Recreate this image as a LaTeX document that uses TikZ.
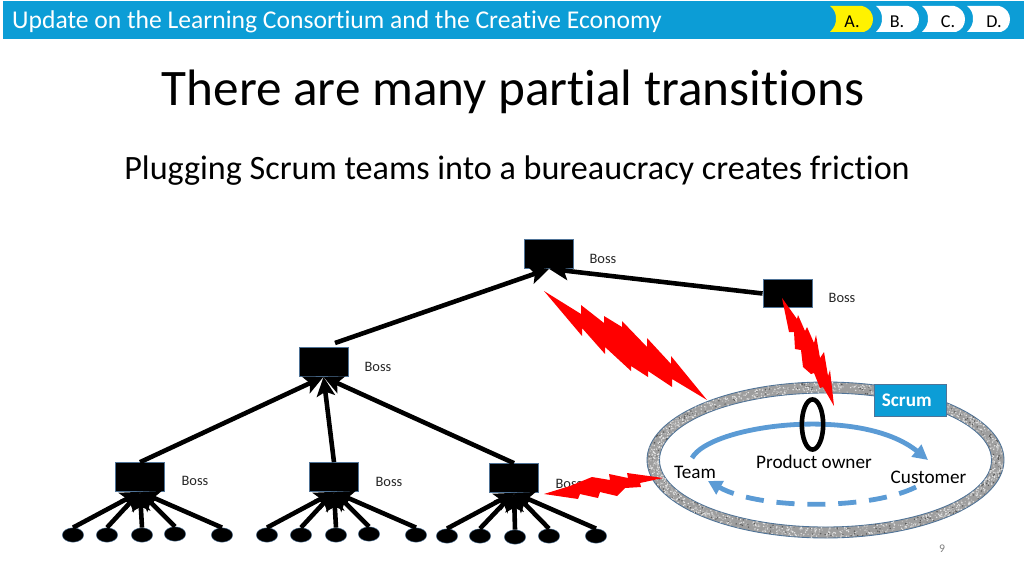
\documentclass[tikz,border=0pt]{standalone}
\usepackage{fontspec}
\setmainfont[Ligatures=NoCommon]{Carlito}
\usepackage{xcolor}
\usetikzlibrary{positioning}
\usetikzlibrary{shapes}
\usetikzlibrary{arrows.meta}
\definecolor{barblue}{HTML}{0C9DD6}
\definecolor{loopblue}{HTML}{5B9BD5}
\definecolor{edgeblue}{HTML}{4F7397}
\tikzset{
  bossbox/.style={rectangle,draw=edgeblue,fill=black,line width=0.8pt,minimum width=46pt,minimum height=27pt,inner sep=0pt},
  worker/.style={ellipse,draw=edgeblue,fill=black,line width=0.4pt,minimum width=20pt,minimum height=13.5pt,inner sep=0pt},
  bossline/.style={line width=4.3pt,-{Stealth[length=18pt,width=17pt,inset=4pt]}},
  bosslabel/.style={font=\fontsize{13.5}{13.5}\selectfont,text=black!85},
  looplabel/.style={font=\fontsize{18}{18}\selectfont},
  bolt/.style={fill=red},
  tablabel/.style={font=\fontsize{17}{17}\selectfont}
}
\begin{document}
\begin{tikzpicture}[x=0.9375pt,y=-0.9375pt]
  \useasboundingbox (0,0) rectangle (1024,576);
  \fill[white] (0,0) rectangle (1024,576);
  % header
  \fill[barblue] (3,1) rectangle (1024,39);
  \node[anchor=west,text=white,font=\fontsize{24}{24}\selectfont,inner sep=0pt] (header) at (12,21.5) {Update on the Learning Consortium and the Creative Economy};
  \foreach \x/\c/\name/\lab/\tx in {830/yellow/taba/A./852,876/white/tabb/B./897,922/white/tabc/C./948,967/white/tabd/D./994}
  {
    \fill[\c] (\x,6) -- (\x+32,6) .. controls (\x+40,8) and (\x+43,14) .. (\x+43,19) .. controls (\x+43,25) and (\x+40,30) .. (\x+34,32) -- (\x,32) .. controls (\x+5,27) and (\x+6,23) .. (\x+6,19) .. controls (\x+6,14) and (\x+5,10) .. cycle;
    \node[tablabel,inner sep=0pt] (\name) at (\tx,21.5) {\lab};
  }
  \node[font=\fontsize{48}{48}\selectfont,inner sep=0pt] (title) at (513,92) {There are many partial transitions};
  \node[font=\fontsize{32}{32}\selectfont,inner sep=0pt] (subtitle) at (517,171) {Plugging Scrum teams into a bureaucracy creates friction};
  % ring
  \fill[black!38,draw=edgeblue,line width=0.8pt,even odd rule] (825.5,460) ellipse [x radius=178.5,y radius=78] (825.5,460) ellipse [x radius=166,y radius=67];
  \pgfmathsetseed{9}
  \foreach \i in {1,...,1500}
  {
    \pgfmathsetmacro{\ang}{rnd*360}
    \pgfmathsetmacro{\frac}{0.06+rnd*0.88}
    \pgfmathsetmacro{\shade}{rnd<0.15 ? 65 : (rnd<0.5 ? 10 : 25)}
    \fill[black!\shade] ({825.5+(166+12.5*\frac)*cos(\ang)},{460+(67+11*\frac)*sin(\ang)}) circle (0.8);
  }
  % bosses
  \node[bossbox] (bosstop) at (549,254) {};
  \node[bossbox] (bossright) at (787.5,293.5) {};
  \node[bossbox] (bossmid) at (323.5,362) {};
  \node[bossbox] (bossa) at (140,477) {};
  \node[bossbox] (bossb) at (334,477) {};
  \node[bossbox] (bossc) at (514,478) {};
  \node[bosslabel,inner sep=0pt] (labtop) at (603,258.5) {Boss};
  \node[bosslabel,inner sep=0pt] (labright) at (842,298) {Boss};
  \node[bosslabel,inner sep=0pt] (labmid) at (378,366.5) {Boss};
  \node[bosslabel,inner sep=0pt] (laba) at (195,481) {Boss};
  \node[bosslabel,inner sep=0pt] (labb) at (389,481.5) {Boss};
  \node[bosslabel,inner sep=0pt] (labc) at (569,484) {Boss};
  \coordinate (midtop) at (335,343);
  \draw[bossline] (midtop) -- (bosstop.south);
  \draw[bossline] (bossright.west) -- (bosstop.south);
  \foreach \b in {bossa,bossb,bossc}
    \draw[bossline] (\b.north) -- (bossmid.south);
  % workers
  \foreach \n/\x/\y in {a1/73/535,a2/107/535,a3/142/535,a4/175/534,a5/222/535,b1/267/535,b2/301/535,b3/336/535,b4/369/534,b5/416/535,c1/447/536,c2/480/536,c3/515/537,c4/549/536,c5/596/536}
    \node[worker] (w\n) at (\x,\y) {};
  \foreach \n in {a1,a2,a3,a4,a5}
    \draw[bossline] (w\n.north) -- (bossa.south);
  \foreach \n in {b1,b2,b3,b4,b5}
    \draw[bossline] (w\n.north) -- (bossb.south);
  \foreach \n in {c1,c2,c3,c4,c5}
    \draw[bossline] (w\n.north) -- (bossc.south);
  % friction
  \fill[bolt] (544,291) -- (581,314) -- (581,305) -- (604,323) -- (604,316) -- (622,327) -- (622,321) -- (647,347) -- (647,338) -- (671,364) -- (671,356) -- (707,400) -- (672,379) -- (672,387) -- (648,371) -- (648,377) -- (631,366) -- (631,371) -- (605,347) -- (605,354) -- (582,328) -- (582,336) -- cycle;
  \fill[bolt] (782,298) -- (797,319) -- (798,315) -- (805,331) -- (807,327) -- (814,343) -- (816,335) -- (820,358) -- (824,352) -- (828,376) -- (830,370) -- (834,406) -- (823,387) -- (820,388) -- (814,373) -- (811,374) -- (803,367) -- (801,350) -- (795,349) -- (794,332) -- (789,332) -- cycle;
  \fill[bolt] (544,494) -- (570,486) -- (592,477) -- (610,480) -- (609,474) -- (628,478) -- (627,473) -- (663,478) -- (640,483) -- (641,487) -- (625,488) -- (617,496) -- (600,492) -- (598,498) -- (580,494) -- (578,499) -- cycle;
  % scrum loop
  \coordinate (loopa) at (692,458);
  \coordinate (loopb) at (928,460);
  \coordinate (loopc) at (916,487);
  \coordinate (loopd) at (708,481);
  \draw[loopblue,line width=4.5pt,-{Triangle[length=14pt,width=14pt]}] (loopa) .. controls (710,425) and (860,405) .. (loopb);
  \draw[loopblue,line width=4.5pt,dash pattern=on 17pt off 12pt,-{Triangle[length=13pt,width=14pt]}] (loopc) .. controls (870,510) and (760,510) .. (loopd);
  \node[ellipse,draw=black,line width=4.3pt,minimum width=20pt,minimum height=47pt,inner sep=0pt] (owner) at (812.5,424.5) {};
  \node[looplabel,inner sep=0pt] (labowner) at (814,462) {Product owner};
  \node[looplabel,inner sep=0pt] (labteam) at (695,472.5) {Team};
  \node[looplabel,inner sep=0pt] (labcustomer) at (928.5,477) {Customer};
  \node[rectangle,draw=edgeblue,fill=barblue,text=white,line width=0.8pt,minimum width=68pt,minimum height=30pt,inner sep=0pt,font=\fontsize{18}{18}\selectfont\bfseries] (scrum) at (910.5,400) {\hspace{-7pt}Scrum};
  \node[text=black!50,font=\fontsize{11}{11}\selectfont,inner sep=0pt] (page) at (942,549) {9};
\end{tikzpicture}
\end{document}
